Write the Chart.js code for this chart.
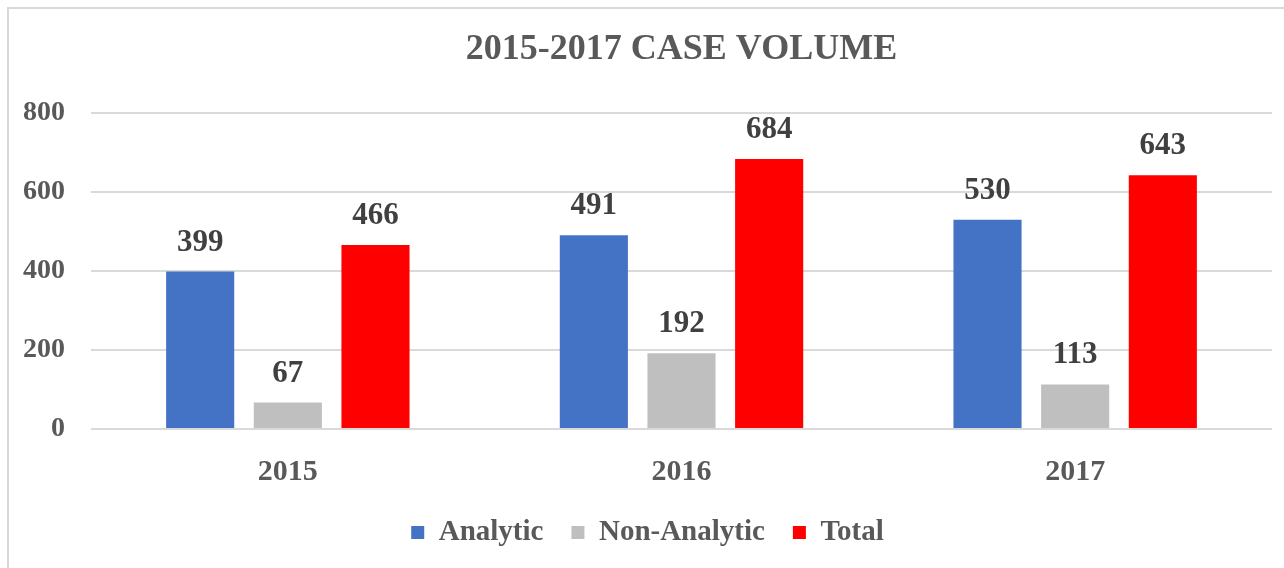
<!DOCTYPE html>
<html>
<head>
<meta charset="utf-8">
<script src="https://cdn.jsdelivr.net/npm/chart.js@4"></script>
<style>
	html, body { margin: 0; padding: 0; background: #fff; overflow: hidden; }
	#wrap {
		position: absolute; left: 7px; top: 7px;
		width: 1277px; height: 561px;
		border-left: 2px solid #d9d9d9;
		border-top: 2px solid #d9d9d9;
	}
	#chart { display: block; }
</style>
</head>
<body>
<div id="wrap"><canvas id="chart" width="1277" height="561"></canvas></div>
<script>
	// values
	let years = ["2015", "2016", "2017"];
	let analytic = [399, 491, 530];
	let nonAnalytic = [67, 192, 113];
	let total = [466, 684, 643];
	let yTicks = [0, 200, 400, 600, 800];

	const serif = "'Liberation Serif', 'Times New Roman', serif";

	// draws the value above each bar
	let barLabels = {
		id: "barLabels",
		afterDatasetsDraw(chart){
			let ctx = chart.ctx;
			ctx.save();
			ctx.font = "bold 31px " + serif;
			ctx.fillStyle = "#404040";
			ctx.textAlign = "center";
			ctx.textBaseline = "middle";
			chart.data.datasets.forEach(function(ds, i){
				chart.getDatasetMeta(i).data.forEach(function(bar, j){
					ctx.fillText(ds.data[j], bar.x, bar.y - 29);
				});
			});
			ctx.restore();
		}
	};

	new Chart(document.getElementById("chart").getContext("2d"), {
		type: "bar",
		data: {
			labels: years,
			datasets: [
				{ label: "Analytic", data: analytic, backgroundColor: "#4472C4" },
				{ label: "Non-Analytic", data: nonAnalytic, backgroundColor: "#BFBFBF" },
				{ label: "Total", data: total, backgroundColor: "#FF0000" }
			]
		},
		options: {
			responsive: false,
			animation: false,
			layout: { padding: { left: 14, right: 14, top: 0, bottom: 13 } },
			datasets: { bar: { categoryPercentage: 0.668, barPercentage: 0.777 } },
			scales: {
				x: {
					grid: { display: false },
					border: { display: false },
					ticks: { color: "#595959", padding: 17, font: { family: serif, size: 30, weight: "bold" } },
					afterFit(axis){ axis.height -= 17; }
				},
				y: {
					min: 0,
					max: 800,
					afterBuildTicks(axis){ axis.ticks = yTicks.map(v => ({ value: v })); },
					afterFit(axis){ axis.width = 68; },
					grid: { color: "#d9d9d9", lineWidth: 2, drawTicks: false },
					border: { display: false },
					ticks: { color: "#595959", padding: 26, font: { family: serif, size: 28, weight: "bold" } }
				}
			},
			plugins: {
				title: {
					display: true,
					text: "2015-2017 CASE VOLUME",
					color: "#595959",
					fullSize: false,
					font: { family: serif, size: 36, weight: "bold" },
					padding: { top: 19, bottom: 42 }
				},
				legend: {
					position: "bottom",
					labels: {
						color: "#595959",
						boxWidth: 13,
						boxHeight: 13,
						padding: 28,
						font: { family: serif, size: 29, weight: "bold" }
					}
				},
				tooltip: { enabled: false }
			}
		},
		plugins: [barLabels]
	});
</script>
</body>
</html>
